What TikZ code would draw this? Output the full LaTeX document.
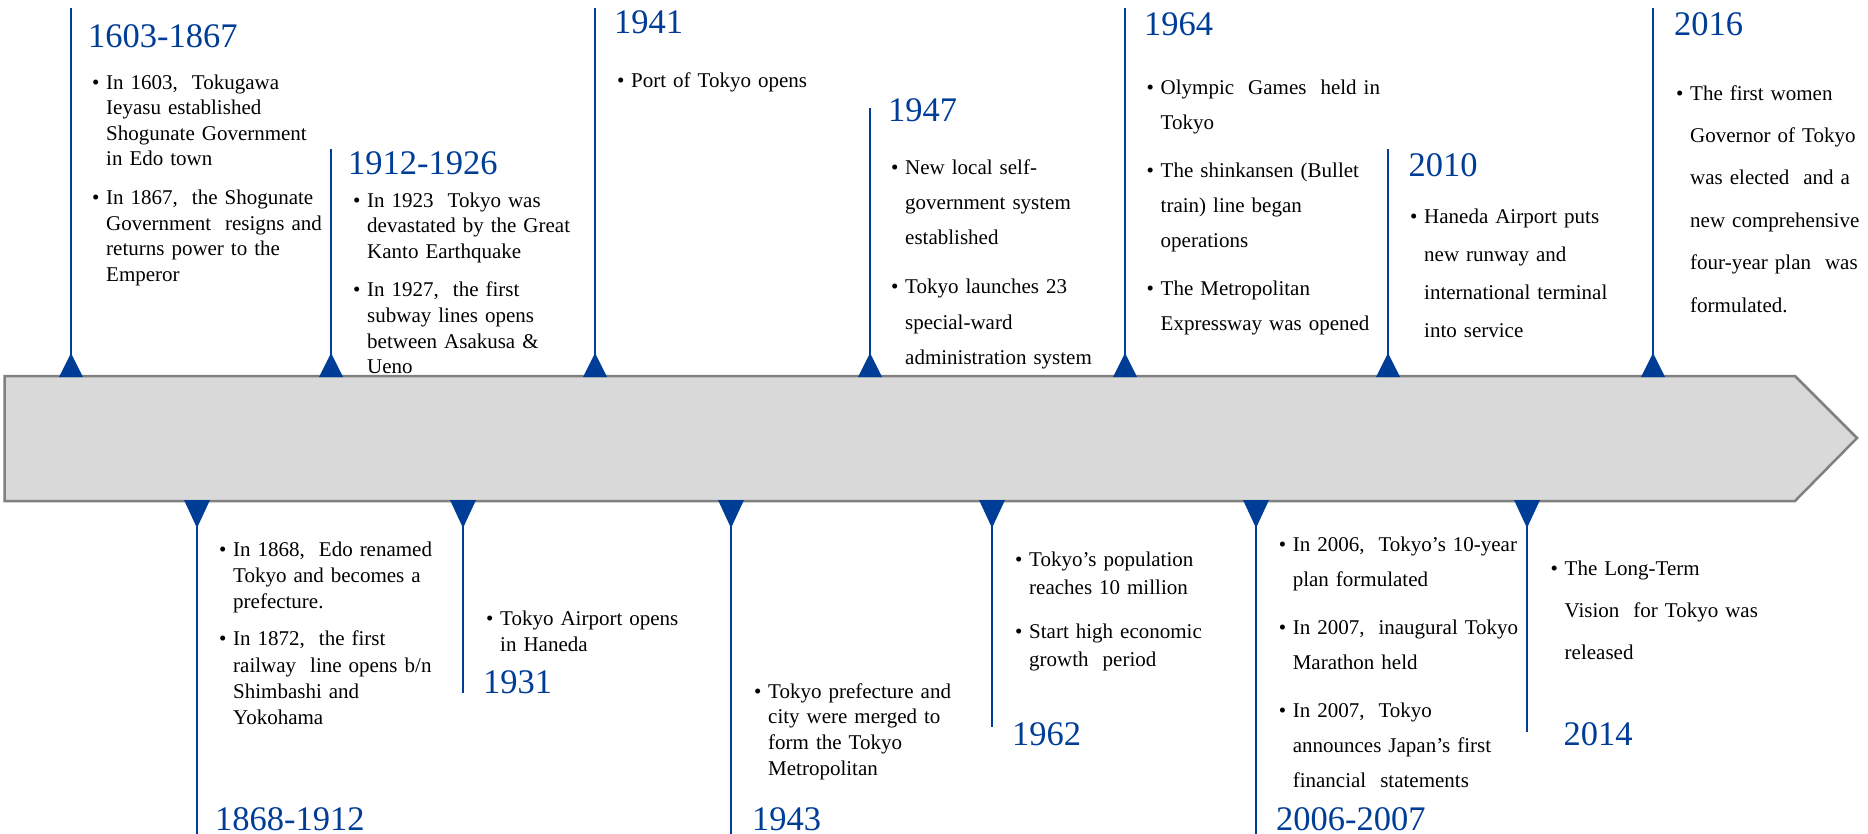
\documentclass[tikz,border=0pt]{standalone}
\usepackage{fontspec}
\setmainfont{Liberation Serif}
\definecolor{tlblue}{RGB}{0,61,150}
\definecolor{tlgray}{RGB}{217,217,217}
\definecolor{tledge}{RGB}{128,128,128}
\newcommand{\bul}{\makebox[14pt][l]{\textbullet}}
\newcommand{\ind}{\hspace*{14pt}}
\begin{document}
\begin{tikzpicture}[x=1pt,y=-1pt,
  year/.style={anchor=base west, inner sep=0pt, text=tlblue, font=\fontsize{34.5}{40}\selectfont},
  body/.style={anchor=base west, inner sep=0pt, text width=260pt, align=left, font=\fontsize{21}{#1}\selectfont},
  stem/.style={draw=tlblue, line width=2.8pt},
  tri/.style={fill=tlblue},
  band/.style={fill=tlgray, draw=tledge, line width=2.5pt, line join=miter},
]
\useasboundingbox (0,0) rectangle (1868,833);
% main arrow
\coordinate (a1) at (4.5,376);
\coordinate (a2) at (1795,376);
\coordinate (a3) at (1857,438);
\coordinate (a4) at (1795,501);
\coordinate (a5) at (4.5,501);
\draw[band] (a1) -- (a2) -- (a3) -- (a4) -- (a5) -- cycle;
% top markers
\foreach \n/\x/\t in {u1/71/8, u2/331/149, u3/595/8, u4/870/108, u5/1125/8, u6/1388/149, u7/1653/8}{
  \coordinate (\n b) at (\x,370);
  \coordinate (\n t) at (\x,\t);
  \draw[stem] (\n b) -- (\n t);
  \fill[tri] (\x-12,377) -- (\x+12,377) -- (\x,353) -- cycle;
}
% bottom markers
\foreach \n/\x/\t in {d1/197/834, d2/463/693, d3/731/834, d4/992/727, d5/1256/834, d6/1527/732}{
  \coordinate (\n b) at (\x,506);
  \coordinate (\n t) at (\x,\t);
  \draw[stem] (\n b) -- (\n t);
  \fill[tri] (\x-13,500) -- (\x+13,500) -- (\x,528) -- cycle;
}
% years
\node[year] (y1) at (88,47) {1603-1867};
\node[year] (y2) at (348,174) {1912-1926};
\node[year] (y3) at (614,33) {1941};
\node[year] (y4) at (888,121) {1947};
\node[year] (y5) at (1144,35) {1964};
\node[year] (y6) at (1408.5,176) {2010};
\node[year] (y7) at (1674,35) {2016};
\node[year] (y8) at (215,830) {1868-1912};
\node[year] (y9) at (483,693) {1931};
\node[year] (y10) at (752,830) {1943};
\node[year] (y11) at (1012,745) {1962};
\node[year] (y12) at (1276,830) {2006-2007};
\node[year] (y13) at (1563.5,745) {2014};
% texts
\node[body=25.5] (b1) at (92,89) {\bul In 1603, \ Tokugawa\\ \ind Ieyasu established\\ \ind Shogunate Government\\ \ind in Edo town\\[13.5pt]
\bul In 1867, \ the Shogunate\\ \ind Government \ resigns and\\ \ind returns power to the\\ \ind Emperor};
\node[body=25.8] (b2) at (353,207) {\bul In 1923 \ Tokyo was\\ \ind devastated by the Great\\ \ind Kanto Earthquake\\[12pt]
\bul In 1927, \ the first\\ \ind subway lines opens\\ \ind between Asakusa \&\\ \ind Ueno};
\node[body=25] (b3) at (617,87) {\bul Port of Tokyo opens};
\node[body=35.3] (b4) at (891,174) {\bul New local self-\\ \ind government system\\ \ind established\\[14pt]
\bul Tokyo launches 23\\ \ind special-ward\\ \ind administration system};
\node[body=35] (b5) at (1146.5,94) {\bul Olympic \ Games \ held in\\ \ind Tokyo\\[13pt]
\bul The shinkansen (Bullet\\ \ind train) line began\\ \ind operations\\[13pt]
\bul The Metropolitan\\ \ind Expressway was opened};
\node[body=38.3] (b6) at (1410,223) {\bul Haneda Airport puts\\ \ind new runway and\\ \ind international terminal\\ \ind into service};
\node[body=42.4] (b7) at (1676,100) {\bul The first women\\ \ind Governor of Tokyo\\ \ind was elected \ and a\\ \ind new comprehensive\\ \ind four-year plan \ was\\ \ind formulated.};
\node[body=26.3] (b8) at (219,556) {\bul In 1868, \ Edo renamed\\ \ind Tokyo and becomes a\\ \ind prefecture.\\[11pt]
\bul In 1872, \ the first\\ \ind railway \ line opens b/n\\ \ind Shimbashi and\\ \ind Yokohama};
\node[body=26] (b9) at (486,625) {\bul Tokyo Airport opens\\ \ind in Haneda};
\node[body=25.7] (b10) at (754,698) {\bul Tokyo prefecture and\\ \ind city were merged to\\ \ind form the Tokyo\\ \ind Metropolitan};
\node[body=28] (b11) at (1015,566) {\bul Tokyo’s population\\ \ind reaches 10 million\\[16pt]
\bul Start high economic\\ \ind growth \ period};
\node[body=35] (b12) at (1278.6,551) {\bul In 2006, \ Tokyo’s 10-year\\ \ind plan formulated\\[13pt]
\bul In 2007, \ inaugural Tokyo\\ \ind Marathon held\\[13pt]
\bul In 2007, \ Tokyo\\ \ind announces Japan’s first\\ \ind financial \ statements};
\node[body=42] (b13) at (1550.5,575) {\bul The Long-Term\\ \ind Vision \ for Tokyo was\\ \ind released};
\end{tikzpicture}
\end{document}
